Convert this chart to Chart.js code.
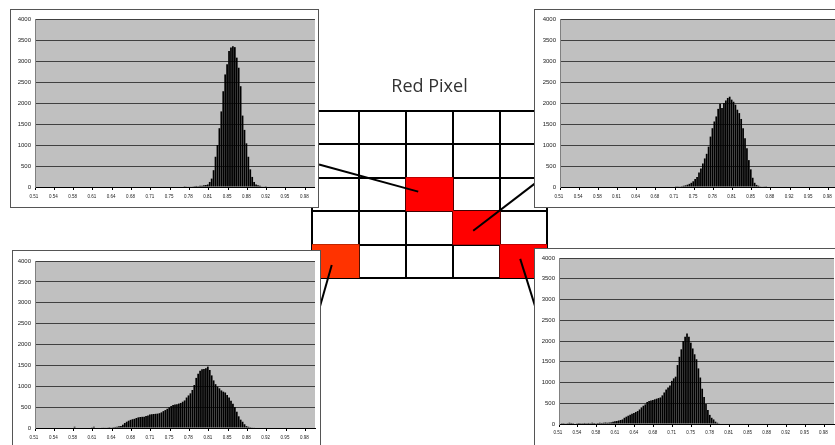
<!DOCTYPE html>
<html>
<head>
<meta charset="utf-8">
<script src="https://cdn.jsdelivr.net/npm/chart.js@4.4.0/dist/chart.umd.min.js"></script>
<style>
  html, body { margin: 0; padding: 0; background: #fff; }
  body { width: 835px; height: 445px; position: relative; overflow: hidden; }
  .box { position: absolute; background: #fff; border: 1px solid #555; box-sizing: border-box; z-index: 3; }
  .box canvas, #gridWrap canvas { display: block; }
  #gridWrap { position: absolute; left: 300px; top: 60px; z-index: 1; }
</style>
</head>
<body>
<div id="gridWrap"><canvas id="pixelGrid" width="260" height="260"></canvas></div>
<div class="box" id="boxA" style="left:10px;top:9px;width:309px;height:199px"><canvas id="chartA" width="307" height="197"></canvas></div>
<div class="box" id="boxB" style="left:534px;top:9px;width:312px;height:199px"><canvas id="chartB" width="310" height="197"></canvas></div>
<div class="box" id="boxC" style="left:12px;top:250px;width:309px;height:199px"><canvas id="chartC" width="307" height="197"></canvas></div>
<div class="box" id="boxD" style="left:534px;top:248px;width:312px;height:199px"><canvas id="chartD" width="310" height="197"></canvas></div>

<script>
// axis labels shown every 10 bins
const tickLabels = ['0.51', '0.54', '0.58', '0.61', '0.64', '0.68', '0.71', '0.75',
                    '0.78', '0.81', '0.85', '0.88', '0.92', '0.95', '0.98'];
const BIN_COUNT = 145;

// pixel counts per bin
const countsTopLeft = [
  0, 0, 0, 0, 0, 0, 0, 0, 0, 0,
  0, 0, 0, 0, 0, 0, 0, 0, 0, 0,
  0, 0, 0, 0, 0, 0, 0, 0, 0, 0,
  0, 0, 0, 0, 0, 0, 0, 0, 0, 0,
  0, 0, 0, 0, 0, 0, 0, 0, 0, 0,
  0, 0, 0, 0, 0, 0, 0, 0, 0, 0,
  0, 0, 0, 0, 0, 0, 0, 0, 0, 0,
  0, 0, 0, 0, 0, 0, 0, 5, 15, 10,
  10, 15, 20, 25, 20, 30, 30, 40, 50, 60,
  120, 200, 400, 720, 1000, 1400, 1800, 2280, 2680, 2920,
  3240, 3320, 3350, 3330, 3080, 2840, 2400, 1700, 1360, 1040,
  720, 420, 240, 120, 60, 40, 30, 15, 10, 5,
  0, 0, 0, 0, 0, 0, 0, 0, 0, 0,
  0, 0, 0, 0, 0, 0, 0, 0, 0, 0,
  0, 0, 0, 0, 0
];
const countsTopRight = [
  0, 0, 0, 0, 0, 0, 0, 0, 0, 0,
  0, 0, 0, 0, 0, 0, 0, 0, 0, 0,
  0, 0, 0, 0, 0, 0, 0, 0, 0, 0,
  0, 0, 0, 0, 0, 0, 0, 0, 0, 0,
  0, 0, 0, 0, 0, 0, 0, 0, 0, 0,
  0, 0, 0, 0, 0, 0, 0, 0, 0, 0,
  5, 8, 15, 20, 30, 40, 55, 75, 100, 136,
  190, 240, 344, 440, 560, 680, 790, 960, 1200, 1400,
  1560, 1680, 1860, 1980, 1880, 2000, 2060, 2120, 2150, 2080,
  2030, 1960, 1840, 1760, 1620, 1400, 1160, 920, 640, 420,
  220, 100, 50, 30, 16, 10, 8, 5, 0, 0,
  0, 0, 0, 0, 0, 0, 0, 0, 0, 0,
  0, 0, 0, 0, 0, 0, 0, 0, 0, 0,
  0, 0, 0, 0, 0, 0, 0, 0, 0, 0,
  0, 0, 0, 0, 0
];
const countsBottomLeft = [
  0, 0, 0, 0, 0, 0, 0, 0, 0, 0,
  0, 0, 0, 0, 0, 0, 0, 0, 0, 0,
  30, 0, 0, 0, 0, 0, 0, 0, 0, 20,
  30, 0, 0, 0, 10, 15, 10, 15, 20, 15,
  20, 25, 30, 40, 50, 80, 120, 150, 175, 195,
  210, 220, 240, 255, 264, 268, 272, 285, 300, 325,
  330, 336, 340, 344, 355, 375, 405, 430, 460, 495,
  525, 550, 560, 570, 585, 600, 630, 660, 730, 780,
  830, 910, 1030, 1200, 1300, 1370, 1410, 1416, 1430, 1470,
  1390, 1260, 1140, 1050, 990, 950, 900, 870, 850, 790,
  730, 650, 580, 500, 390, 280, 200, 150, 90, 45,
  30, 20, 15, 10, 0, 0, 0, 0, 0, 0,
  0, 0, 0, 0, 0, 0, 0, 0, 0, 0,
  0, 0, 0, 0, 0, 0, 0, 0, 0, 0,
  0, 0, 0, 0, 0
];
const countsBottomRight = [
  0, 20, 20, 15, 20, 30, 25, 20, 15, 20,
  25, 20, 20, 25, 20, 25, 20, 30, 25, 20,
  25, 30, 25, 30, 35, 30, 35, 40, 55, 65,
  72, 85, 96, 110, 150, 176, 200, 220, 248, 265,
  290, 312, 350, 400, 440, 472, 530, 555, 565, 576,
  595, 610, 625, 640, 690, 760, 830, 880, 930, 1040,
  1100, 1140, 1420, 1620, 1800, 2000, 2100, 2180, 2100, 1960,
  1820, 1680, 1560, 1340, 1120, 850, 650, 480, 340, 220,
  150, 110, 56, 30, 15, 0, 0, 0, 0, 0,
  0, 0, 0, 0, 0, 0, 0, 0, 0, 0,
  0, 0, 0, 0, 0, 0, 0, 0, 0, 0,
  0, 0, 0, 0, 0, 0, 0, 0, 0, 0,
  0, 0, 0, 0, 0, 0, 0, 0, 0, 0,
  0, 0, 0, 0, 0, 0, 0, 0, 0, 0,
  0, 0, 0, 0, 0
];

// 5x5 pixel grid, highlighted cells (1-based column / row from the top)
const gridCols = ['1', '2', '3', '4', '5'];
const hotCellCol = [3, 4, 1, 5];
const hotCellRow = [3, 4, 5, 5];
const hotCellColor = ['#ff0000', '#ff0000', '#ff3300', '#ff0000'];

// leader lines from cells to the histograms, in grid units
const leaderX = [[0.15, 2.26], [3.43, 4.76], [0.42, 0.15], [4.43, 4.76]];
const leaderY = [[1.61, 2.42], [3.59, 2.16], [4.61, 5.95], [4.43, 5.90]];

const binLabels = [];
for (let i = 0; i < BIN_COUNT; i++) {
  binLabels.push(i % 10 === 0 ? tickLabels[i / 10] : '');
}

const plotBg = {
  id: 'plotBg',
  beforeDraw(chart, args, opts) {
    const { ctx, chartArea: a } = chart;
    ctx.save();
    ctx.fillStyle = opts.color;
    ctx.fillRect(a.left, a.top, a.right - a.left, a.bottom - a.top);
    ctx.restore();
  }
};

function makeHistogram(id, counts, g) {
  new Chart(document.getElementById(id), {
    type: 'bar',
    data: {
      labels: binLabels,
      datasets: [{
        data: counts,
        backgroundColor: '#000',
        barPercentage: 0.9,
        categoryPercentage: 1
      }]
    },
    plugins: [plotBg],
    options: {
      responsive: false,
      animation: false,
      layout: { padding: { top: g.padTop, right: g.padRight, left: 0, bottom: 0 } },
      plugins: {
        legend: { display: false },
        tooltip: { enabled: false },
        plotBg: { color: '#c0c0c0' }
      },
      scales: {
        x: {
          grid: {
            drawOnChartArea: false,
            tickLength: 3,
            color: c => (c.index % 10 === 0 ? '#000' : 'rgba(0,0,0,0)')
          },
          border: { color: '#000' },
          ticks: {
            autoSkip: false, maxRotation: 0, minRotation: 0,
            padding: g.labelPad, labelOffset: -2,
            font: { family: 'Liberation Sans', size: 4.5 },
            color: '#222'
          },
          afterFit: s => { s.height = g.xHeight; }
        },
        y: {
          min: 0,
          max: 4000,
          ticks: {
            stepSize: 500, padding: 4,
            font: { family: 'Liberation Sans', size: 6 },
            color: '#222',
            callback: v => String(v)
          },
          grid: { color: '#404040', drawTicks: false },
          border: { display: true, color: '#808080' },
          afterFit: s => { s.width = g.yWidth; }
        }
      }
    }
  });
}

makeHistogram('chartA', countsTopLeft, { padTop: 9, padRight: 3, yWidth: 24, xHeight: 20, labelPad: 4 });
makeHistogram('chartB', countsTopRight, { padTop: 9, padRight: 7, yWidth: 25, xHeight: 20, labelPad: 4 });
makeHistogram('chartC', countsBottomLeft, { padTop: 10, padRight: 5, yWidth: 22, xHeight: 20, labelPad: 4.5 });
makeHistogram('chartD', countsBottomRight, { padTop: 9, padRight: 11, yWidth: 24, xHeight: 22, labelPad: 3 });

// pixel grid
const cellData = gridCols.map((c, i) => {
  const k = hotCellCol.indexOf(i + 1);
  return k >= 0 ? [hotCellRow[k] - 1, hotCellRow[k]] : null;
});
const cellColors = gridCols.map((c, i) => {
  const k = hotCellCol.indexOf(i + 1);
  return k >= 0 ? hotCellColor[k] : 'rgba(0,0,0,0)';
});

const leaderSets = leaderX.map((xs, i) => ({
  type: 'line',
  xAxisID: 'xl',
  order: 0,
  data: [{ x: xs[0], y: leaderY[i][0] }, { x: xs[1], y: leaderY[i][1] }],
  borderColor: '#000',
  borderWidth: 2,
  pointRadius: 0,
  clip: false
}));

new Chart(document.getElementById('pixelGrid'), {
  type: 'bar',
  data: {
    labels: gridCols,
    datasets: [{
      data: cellData,
      backgroundColor: cellColors,
      grouped: false,
      order: 1,
      barPercentage: 1,
      categoryPercentage: 1
    }, ...leaderSets]
  },
  options: {
    responsive: false,
    animation: false,
    layout: { padding: { top: 0, right: 13, left: 12, bottom: 42 } },
    plugins: {
      legend: { display: false },
      tooltip: { enabled: false },
      title: {
        display: true,
        text: 'Red Pixel',
        color: '#333',
        font: { family: 'Open Sans', size: 18, weight: 'normal' },
        padding: { top: 16, bottom: 13 }
      }
    },
    scales: {
      x: {
        z: 1,
        grid: { color: '#000', lineWidth: 2, drawTicks: false, offset: true },
        border: { color: '#000', width: 2 },
        ticks: { display: false },
        afterFit: s => { s.height = 0; }
      },
      xl: { type: 'linear', display: false, offset: false, min: 0, max: 5 },
      y: {
        z: 1,
        min: 0,
        max: 5,
        reverse: true,
        ticks: { display: false, stepSize: 1 },
        grid: { color: '#000', lineWidth: 2, drawTicks: false },
        border: { color: '#000', width: 2 },
        afterFit: s => { s.width = 0; }
      }
    }
  }
});
</script>
</body>
</html>
